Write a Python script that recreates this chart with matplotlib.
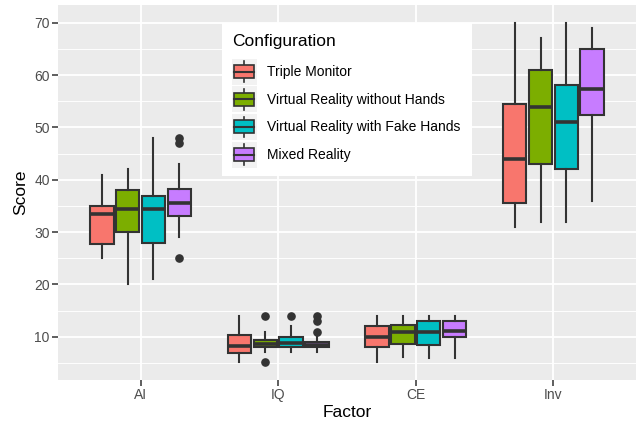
import matplotlib
matplotlib.use('Agg')
import matplotlib.pyplot as plt
from matplotlib.patches import Rectangle
from matplotlib.lines import Line2D
from matplotlib.legend_handler import HandlerBase

plt.rcParams['font.family'] = ['Liberation Sans', 'DejaVu Sans']

factors = ['AI', 'IQ', 'CE', 'Inv']
configs = ['Triple Monitor', 'Virtual Reality without Hands',
           'Virtual Reality with Fake Hands', 'Mixed Reality']
colors = ['#F8766D', '#7CAE00', '#00BFC4', '#C77CFF']

# one list per configuration, values for AI, IQ, CE, Inv
lower_whisker = [[25, 5.1, 5.1, 31], [20, 7.1, 6.1, 32],
                 [21, 7.1, 6.0, 32], [29, 7.1, 6.0, 36]]
q1 = [[27.75, 7.0, 8.0, 35.5], [30, 8.0, 8.7, 43],
      [28, 8.0, 8.5, 42], [33, 8.0, 10, 52.4]]
median = [[33.5, 8.2, 10.0, 44], [34.5, 8.6, 10.9, 54],
          [34.5, 8.9, 11.0, 51], [35.5, 8.5, 11.1, 57.4]]
q3 = [[35, 10.3, 12, 54.4], [38, 9.3, 12.3, 61],
      [37, 10.06, 13, 58.2], [38.2, 9.05, 13, 65]]
upper_whisker = [[41, 14, 14, 70], [42, 10.9, 14, 67],
                 [48, 12, 14, 70], [43, 9.9, 14, 69]]
outliers = [[[], [], [], []],
            [[], [14, 5.1], [], []],
            [[], [14], [], []],
            [[48, 47, 25], [14, 13, 11], [], []]]

W, H = 636, 424
fig = plt.figure(figsize=(W / 100, H / 100), dpi=100)
ax = fig.add_axes([58 / W, 44 / H, 578 / W, 375 / H])
ax.set_facecolor('#EBEBEB')

edge = '#333333'
n = len(configs)
dodge = 0.75 / n
box_w = 0.17
for ci in range(n):
    stats = []
    for fi in range(len(factors)):
        stats.append(dict(med=median[ci][fi], q1=q1[ci][fi], q3=q3[ci][fi],
                          whislo=lower_whisker[ci][fi], whishi=upper_whisker[ci][fi],
                          fliers=outliers[ci][fi]))
    pos = [fi + 1 + (ci - (n - 1) / 2) * dodge for fi in range(len(factors))]
    ax.bxp(stats, positions=pos, widths=box_w, patch_artist=True,
           showcaps=False, manage_ticks=False,
           boxprops=dict(facecolor=colors[ci], edgecolor=edge, linewidth=1.5),
           medianprops=dict(color=edge, linewidth=2.6, solid_capstyle='butt'),
           whiskerprops=dict(color=edge, linewidth=1.5),
           flierprops=dict(marker='o', markerfacecolor=edge, markeredgecolor=edge,
                           markersize=5.2, linestyle='none'),
           zorder=3)

ax.set_xlim(0.4, 4.6)
ax.set_ylim(1.75, 73.4)
ax.set_xticks(range(1, len(factors) + 1))
ax.set_xticklabels(factors)
ax.set_yticks([10, 20, 30, 40, 50, 60, 70])
ax.set_yticks([5, 15, 25, 35, 45, 55, 65], minor=True)
ax.grid(True, which='major', color='white', linewidth=1.3, zorder=0)
ax.grid(True, which='minor', axis='y', color='white', linewidth=0.65, zorder=0)
ax.set_axisbelow(True)
for s in ax.spines.values():
    s.set_visible(False)
ax.tick_params(axis='both', which='major', length=4, width=1.1, color=edge,
               labelcolor='#4D4D4D', labelsize=10, pad=2)
ax.tick_params(axis='both', which='minor', length=0)
ax.set_xlabel('Factor', fontsize=12.5, color='black', labelpad=2)
ax.set_ylabel('Score', fontsize=12.5, color='black', labelpad=4)


class BoxHandler(HandlerBase):
    def __init__(self, color):
        super().__init__()
        self.color = color

    def create_artists(self, legend, orig_handle, xdescent, ydescent, width, height,
                       fontsize, trans):
        bg = Rectangle((-xdescent, -ydescent), width, height, facecolor='#F2F2F2',
                       edgecolor='none', transform=trans)
        cx = -xdescent + width / 2
        wl = Line2D([cx, cx], [-ydescent + height * 0.1, -ydescent + height * 0.9],
                    color=edge, linewidth=1.2, transform=trans)
        bx = Rectangle((-xdescent + width * 0.1, -ydescent + height * 0.25),
                       width * 0.8, height * 0.5, facecolor=self.color,
                       edgecolor=edge, linewidth=1.2, transform=trans)
        md = Line2D([-xdescent + width * 0.1, -xdescent + width * 0.9],
                    [-ydescent + height / 2] * 2, color=edge, linewidth=1.5,
                    transform=trans)
        return [bg, wl, bx, md]


# legend background panel
ax.add_patch(Rectangle((222 / W, 1 - 176 / H), 250 / W, 153 / H,
                       transform=fig.transFigure, facecolor='white',
                       edgecolor='none', zorder=4, clip_on=False))

handles = [Rectangle((0, 0), 1, 1) for _ in configs]
hmap = {h: BoxHandler(c) for h, c in zip(handles, colors)}
leg = ax.legend(handles, configs, handler_map=hmap, title='Configuration',
                loc='upper left', bbox_to_anchor=(232 / W, 1 - 34 / H),
                bbox_transform=fig.transFigure, fontsize=10, title_fontsize=12.5,
                frameon=False, handlelength=1.8, handleheight=2.5,
                handletextpad=0.75, labelspacing=0.12, borderpad=0,
                borderaxespad=0)
leg._legend_box.align = 'left'
leg._legend_box.sep = 7
leg.set_zorder(5)

fig.savefig('out.png', dpi=100)
